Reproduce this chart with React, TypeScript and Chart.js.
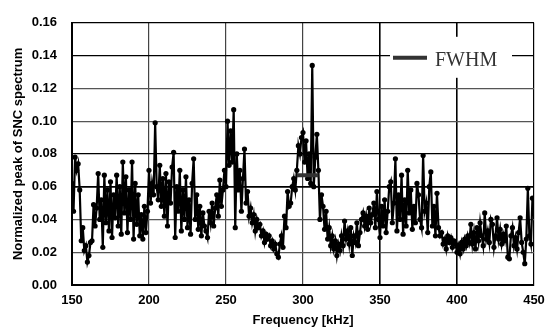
import React, { useEffect, useRef } from 'react';
import { Chart, registerables } from 'chart.js';

Chart.register(...registerables);

// Frequency grid of the SNC spectrum (kHz)
const freqStart = 150;
const freqStep = 1;

// Normalized peak of SNC spectrum, one value per kHz from 150 to 450
const sncPeak = [
  0.062, 0.045, 0.078, 0.070, 0.074, 0.058, 0.027, 0.035, 0.021, 0.024,
  0.014, 0.018, 0.026, 0.027, 0.049, 0.036, 0.047, 0.068, 0.040, 0.052,
  0.023, 0.067, 0.038, 0.058, 0.033, 0.063, 0.029, 0.055, 0.041, 0.067,
  0.036, 0.060, 0.031, 0.075, 0.044, 0.066, 0.032, 0.058, 0.040, 0.075,
  0.028, 0.062, 0.037, 0.055, 0.030, 0.043, 0.028, 0.048, 0.032, 0.045,
  0.070, 0.050, 0.062, 0.055, 0.099, 0.060, 0.052, 0.073, 0.048, 0.065,
  0.042, 0.068, 0.036, 0.063, 0.050, 0.072, 0.081, 0.029, 0.060, 0.045,
  0.070, 0.033, 0.058, 0.040, 0.066, 0.035, 0.052, 0.031, 0.062, 0.077,
  0.040, 0.055, 0.034, 0.048, 0.030, 0.044, 0.036, 0.033, 0.029, 0.045,
  0.038, 0.050, 0.036, 0.047, 0.055, 0.042, 0.064, 0.048, 0.058, 0.070,
  0.060, 0.100, 0.073, 0.094, 0.075, 0.107, 0.035, 0.080, 0.058, 0.070,
  0.045, 0.065, 0.083, 0.050, 0.057, 0.042, 0.047, 0.038, 0.043, 0.033,
  0.040, 0.035, 0.037, 0.030, 0.033, 0.026, 0.031, 0.028, 0.030, 0.024,
  0.027, 0.022, 0.025, 0.019, 0.017, 0.025, 0.030, 0.023, 0.042, 0.035,
  0.057, 0.048, 0.050, 0.060, 0.065, 0.058, 0.070, 0.085, 0.080, 0.090,
  0.093, 0.075, 0.088, 0.065, 0.080, 0.062, 0.134, 0.060, 0.078, 0.092,
  0.070, 0.040, 0.055, 0.048, 0.034, 0.045, 0.028, 0.035, 0.024, 0.030,
  0.022, 0.027, 0.018, 0.025, 0.021, 0.030, 0.024, 0.039, 0.028, 0.033,
  0.025, 0.035, 0.018, 0.030, 0.026, 0.038, 0.024, 0.032, 0.040, 0.044,
  0.036, 0.042, 0.034, 0.047, 0.038, 0.043, 0.050, 0.035, 0.057, 0.040,
  0.029, 0.048, 0.036, 0.052, 0.032, 0.045, 0.060, 0.063, 0.038, 0.050,
  0.077, 0.033, 0.055, 0.040, 0.067, 0.031, 0.052, 0.036, 0.070, 0.044,
  0.058, 0.034, 0.048, 0.038, 0.062, 0.055, 0.040, 0.035, 0.079, 0.045,
  0.050, 0.032, 0.060, 0.069, 0.036, 0.048, 0.030, 0.056, 0.035, 0.030,
  0.032, 0.025, 0.028, 0.022, 0.030, 0.026, 0.029, 0.023, 0.027, 0.025,
  0.020, 0.024, 0.019, 0.026, 0.022, 0.028, 0.024, 0.030, 0.026, 0.037,
  0.025, 0.032, 0.022, 0.035, 0.027, 0.038, 0.030, 0.024, 0.044, 0.028,
  0.033, 0.026, 0.040, 0.037, 0.023, 0.030, 0.041, 0.028, 0.034, 0.025,
  0.031, 0.027, 0.036, 0.017, 0.016, 0.030, 0.035, 0.024, 0.029, 0.022,
  0.032, 0.041, 0.026, 0.020, 0.013, 0.028, 0.059, 0.030, 0.025, 0.053,
  0.045,
];

// FWHM marker (kHz range at half maximum)
const fwhmFreq = [296, 310];
const fwhmLevel = [0.067, 0.067];

const xMin = 150;
const xMax = 450;
const xStep = 50;
const yMin = 0;
const yMax = 0.16;
const yStep = 0.02;

const xTitle = 'Frequency [kHz]';
const yTitle = 'Normalized peak of SNC spectrum';
const fwhmLabel = 'FWHM';

const legendPlugin = {
  id: 'fwhmLegend',
  afterDraw(chart: any) {
    const { ctx, chartArea: a } = chart;
    const ds = chart.data.datasets[0];
    const x0 = a.right - 144;
    const y0 = a.top + 14;
    ctx.save();
    ctx.fillStyle = '#ffffff';
    ctx.fillRect(x0, y0, 122, 41);
    ctx.strokeStyle = ds.borderColor;
    ctx.lineWidth = ds.borderWidth;
    ctx.beginPath();
    ctx.moveTo(x0 + 3, y0 + 21);
    ctx.lineTo(x0 + 37, y0 + 21);
    ctx.stroke();
    ctx.fillStyle = '#333333';
    ctx.font = '20px "Liberation Serif", serif';
    ctx.textBaseline = 'middle';
    ctx.textAlign = 'left';
    ctx.fillText(ds.label, x0 + 45, y0 + 24);
    ctx.restore();
  },
};

export default function App() {
  const ref = useRef<HTMLCanvasElement | null>(null);

  useEffect(() => {
    if (!ref.current) return;
    const mainData = sncPeak.map((v, i) => ({ x: freqStart + i * freqStep, y: v }));
    const fwhmData = fwhmFreq.map((f, i) => ({ x: f, y: fwhmLevel[i] }));
    const tickFont = { family: '"Liberation Sans", Arial, sans-serif', size: 13, weight: 'bold' as const };

    const chart = new Chart(ref.current, {
      type: 'line',
      data: {
        datasets: [
          {
            label: fwhmLabel,
            data: fwhmData,
            borderColor: '#333333',
            backgroundColor: '#333333',
            borderWidth: 4,
            pointRadius: 0,
            fill: false,
          },
          {
            label: 'SNC',
            data: mainData,
            borderColor: '#000000',
            backgroundColor: '#000000',
            borderWidth: 2.2,
            pointRadius: 2.6,
            pointBackgroundColor: '#000000',
            pointBorderColor: '#000000',
            pointBorderWidth: 0,
            tension: 0,
            fill: false,
          },
        ],
      },
      options: {
        animation: false,
        responsive: true,
        maintainAspectRatio: false,
        layout: { padding: { left: 0, top: 18, right: 24, bottom: 0 } },
        plugins: {
          legend: { display: false },
          tooltip: { enabled: false },
        },
        scales: {
          x: {
            type: 'linear',
            min: xMin,
            max: xMax,
            ticks: { stepSize: xStep, font: tickFont, color: '#000', padding: 8, maxRotation: 0 },
            grid: {
              drawTicks: false,
              color: (c: any) => {
                const v = c.tick ? c.tick.value : 0;
                return v >= 350 ? '#000000' : '#444444';
              },
              lineWidth: (c: any) => {
                const v = c.tick ? c.tick.value : 0;
                return v === 350 || v === 400 ? 1.6 : 1.2;
              },
            },
            border: { color: '#000000', width: 2 },
            title: {
              display: true,
              text: xTitle,
              font: { family: '"Liberation Sans", Arial, sans-serif', size: 13, weight: 'bold' },
              color: '#000',
              padding: { top: 0, bottom: 1 },
            },
            afterFit: (s: any) => { s.height = 44; },
          },
          y: {
            min: yMin,
            max: yMax,
            ticks: {
              stepSize: yStep,
              font: tickFont,
              color: '#000',
              padding: 15,
              callback: (v: any) => Number(v).toFixed(2),
            },
            grid: {
              drawTicks: false,
              color: (c: any) => {
                const k = c.tick ? Math.round(c.tick.value * 100) : 0;
                if (k === 6 || k === 8 || k === 14 || k === 16) return '#000000';
                return '#555555';
              },
              lineWidth: (c: any) => {
                const k = c.tick ? Math.round(c.tick.value * 100) : 0;
                return k === 6 ? 1.8 : 1.2;
              },
            },
            border: { color: '#000000', width: 2 },
            title: {
              display: true,
              text: yTitle,
              font: { family: '"Liberation Sans", Arial, sans-serif', size: 13, weight: 'bold' },
              color: '#000',
              padding: { top: 11, bottom: 0 },
            },
            afterFit: (s: any) => { s.width = 72; },
          },
        },
      },
      plugins: [legendPlugin],
    });
    return () => chart.destroy();
  }, []);

  return (
    <div style={{ position: 'fixed', left: 0, top: 0, width: 558, height: 329, background: '#fff' }}>
      <canvas ref={ref} />
    </div>
  );
}
